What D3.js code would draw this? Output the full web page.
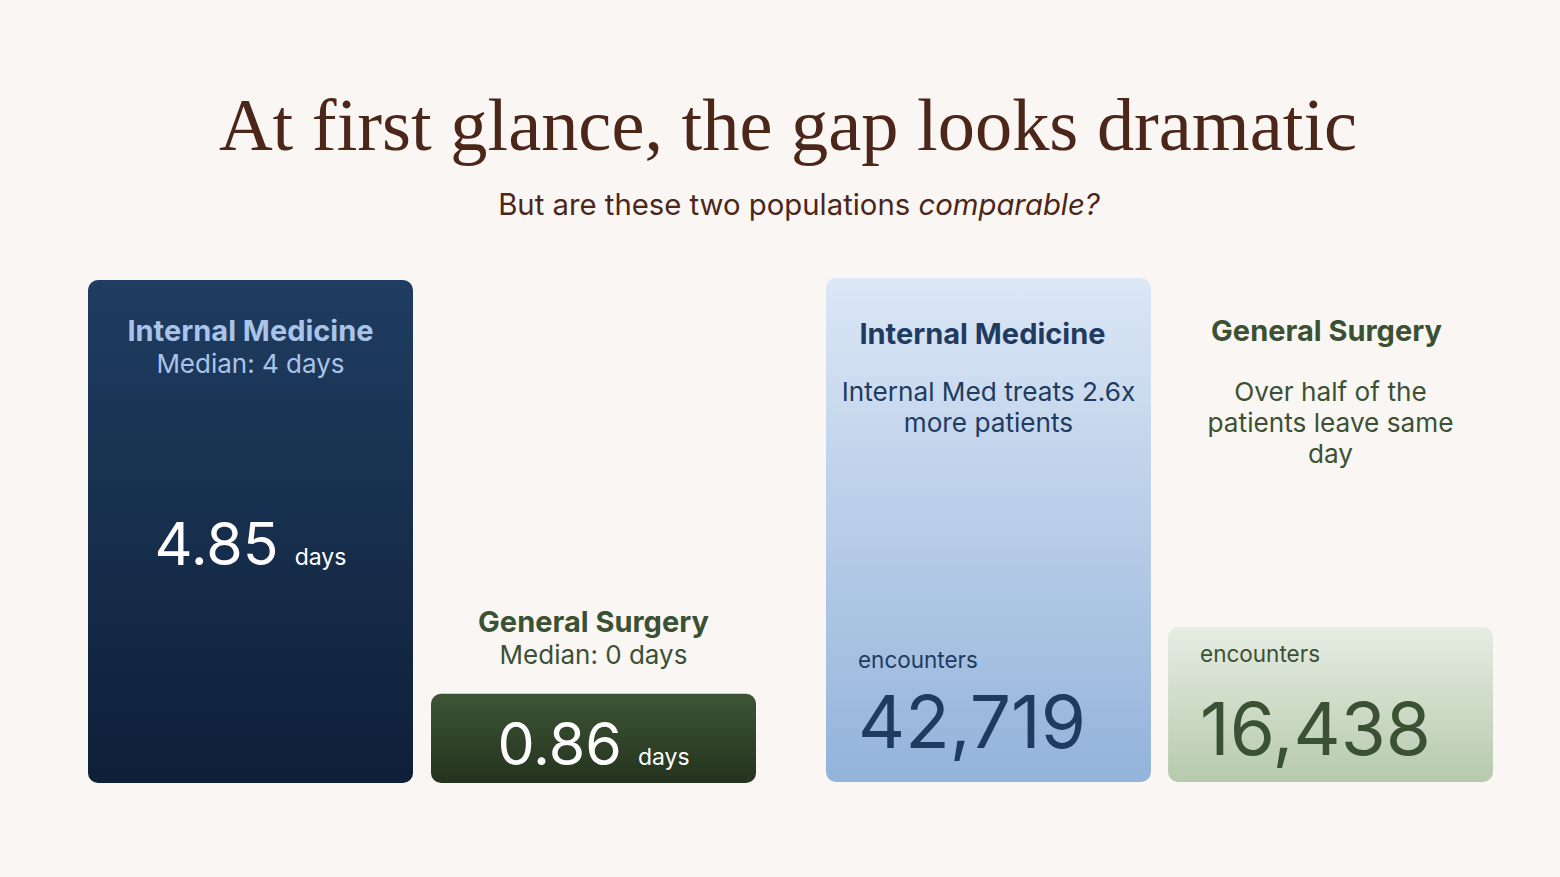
<!DOCTYPE html>
<html>
<head>
<meta charset="utf-8">
<script src="https://cdn.jsdelivr.net/npm/d3@7"></script>
<style>
  html, body { margin: 0; padding: 0; background: #faf6f3; }
  svg { display: block; font-family: Inter, "Noto Sans", sans-serif; }
</style>
</head>
<body>
<div id="chart"></div>
<script>
// Length of stay vs. volume, two departments

const departments = ['Internal Medicine', 'General Surgery'];
const meanStay = [4.85, 0.86];          // days
const medianStay = [4, 0];              // days
const encounters = [42719, 16438];
const notes = [
    ['Internal Med treats 2.6x', 'more patients'],
    ['Over half of the', 'patients leave same', 'day']
];

const titleText = 'At first glance, the gap looks dramatic';
const subtitleText = 'But are these two populations ';
const subtitleEm = 'comparable?';

const width = 1560;
const height = 877;

const palette = {
    bg: '#faf6f3',
    title: '#4b2619',
    blueDark: ['#1f3d61', '#0e1f38'],
    greenDark: ['#3d5535', '#24331e'],
    blueLight: ['#dce7f6', '#93b3da'],
    greenLight: ['#e6ede3', '#b6caad'],
    blueLabel: '#a9c4e8',
    blueText: '#1f3b60',
    greenText: '#3b5134'
};

const svg = d3.select('#chart')
    .append('svg')
    .attr('width', width)
    .attr('height', height);

svg.append('rect')
    .attr('width', width)
    .attr('height', height)
    .attr('fill', palette.bg);

// gradients
const defs = svg.append('defs');
function addGradient(id, stops) {
    const g = defs.append('linearGradient')
        .attr('id', id)
        .attr('x1', 0).attr('y1', 0)
        .attr('x2', 0).attr('y2', 1);
    g.append('stop').attr('offset', '0%').attr('stop-color', stops[0]);
    g.append('stop').attr('offset', '100%').attr('stop-color', stops[1]);
}
addGradient('g-blue-dark', palette.blueDark);
addGradient('g-green-dark', palette.greenDark);
addGradient('g-blue-light', palette.blueLight);
addGradient('g-green-light', palette.greenLight);

// title, fitted to the width it takes in the layout
const title = svg.append('text')
    .attr('x', width / 2 + 8)
    .attr('y', 150)
    .attr('text-anchor', 'middle')
    .attr('fill', palette.title)
    .style('font-family', '"Liberation Serif", "DejaVu Serif", serif')
    .style('font-size', '76px')
    .text(titleText);
const tw = title.node().getComputedTextLength();
title.style('font-size', (76 * 1139 / tw).toFixed(1) + 'px');

const sub = svg.append('text')
    .attr('x', 799)
    .attr('y', 215)
    .attr('text-anchor', 'middle')
    .attr('fill', palette.title)
    .style('font-size', '29.3px');
sub.append('tspan').text(subtitleText);
sub.append('tspan').style('font-style', 'italic').text(subtitleEm);

// ---- left pair: average length of stay ----
const xStay = d3.scaleBand()
    .domain(departments)
    .range([88, 756])
    .paddingInner(0.0525);

const yStay = d3.scaleLinear()
    .domain([0, d3.max(meanStay)])
    .range([783, 280]);

const stayFills = ['url(#g-blue-dark)', 'url(#g-green-dark)'];
const stayLabel = [palette.blueLabel, palette.greenText];

const stay = svg.append('g').attr('class', 'stay')
    .selectAll('g')
    .data(departments.map((d, i) => ({
        dept: d, mean: meanStay[i], median: medianStay[i], i
    })))
    .join('g');

stay.append('rect')
    .attr('x', d => xStay(d.dept))
    .attr('y', d => yStay(d.mean))
    .attr('width', xStay.bandwidth())
    .attr('height', d => yStay(0) - yStay(d.mean))
    .attr('rx', 10)
    .attr('fill', d => stayFills[d.i]);

// label goes inside a tall bar, above a short one
function stayLabelY(d) {
    const top = yStay(d.mean);
    const inside = (yStay(0) - top) > 200;
    return inside ? top + 61 : top - 62;
}

stay.append('text')
    .attr('x', d => xStay(d.dept) + xStay.bandwidth() / 2)
    .attr('y', stayLabelY)
    .attr('text-anchor', 'middle')
    .attr('fill', d => stayLabel[d.i])
    .style('font-size', '29px')
    .style('font-weight', 700)
    .text(d => d.dept);

stay.append('text')
    .attr('x', d => xStay(d.dept) + xStay.bandwidth() / 2)
    .attr('y', d => stayLabelY(d) + 32)
    .attr('text-anchor', 'middle')
    .attr('fill', d => stayLabel[d.i])
    .style('font-size', '26px')
    .text(d => `Median: ${d.median} days`);

const stayValue = stay.append('text')
    .attr('x', d => xStay(d.dept) + xStay.bandwidth() / 2)
    .attr('y', d => {
        const top = yStay(d.mean), bottom = yStay(0);
        return (bottom - top) > 200 ? (top + bottom) / 2 + 33 : bottom - 18;
    })
    .attr('text-anchor', 'middle')
    .attr('fill', '#ffffff');
stayValue.append('tspan')
    .style('font-size', '59px')
    .text(d => d.mean.toFixed(2));
stayValue.append('tspan')
    .attr('dx', 16)
    .style('font-size', '23px')
    .text('days');

// ---- right pair: encounter volume ----
const xEnc = d3.scaleBand()
    .domain(departments)
    .range([826, 1493])
    .paddingInner(0.05);

const yEnc = d3.scaleLinear()
    .domain([4766, d3.max(encounters)])
    .range([782, 278]);

const encFills = ['url(#g-blue-light)', 'url(#g-green-light)'];
const encText = [palette.blueText, palette.greenText];
const fmt = d3.format(',');

const enc = svg.append('g').attr('class', 'encounters')
    .selectAll('g')
    .data(departments.map((d, i) => ({
        dept: d, n: encounters[i], note: notes[i], i
    })))
    .join('g');

enc.append('rect')
    .attr('x', d => xEnc(d.dept))
    .attr('y', d => yEnc(d.n))
    .attr('width', xEnc.bandwidth())
    .attr('height', d => yEnc.range()[0] - yEnc(d.n))
    .attr('rx', 10)
    .attr('fill', d => encFills[d.i]);

enc.append('text')
    .attr('x', d => xEnc(d.dept) + xEnc.bandwidth() / 2 + (d.i === 0 ? -6 : -4))
    .attr('y', d => d.i === 0 ? 344 : 341)
    .attr('text-anchor', 'middle')
    .attr('fill', d => encText[d.i])
    .style('font-size', '29px')
    .style('font-weight', 700)
    .text(d => d.dept);

enc.append('text')
    .attr('text-anchor', 'middle')
    .attr('fill', d => encText[d.i])
    .style('font-size', '26.2px')
    .selectAll('tspan')
    .data(d => d.note.map(line => ({ line, d })))
    .join('tspan')
    .attr('x', o => xEnc(o.d.dept) + xEnc.bandwidth() / 2)
    .attr('y', (o, j) => 401 + j * 31)
    .text(o => o.line);

enc.append('text')
    .attr('x', d => xEnc(d.dept) + 32)
    .attr('y', d => d.i === 0 ? 668 : yEnc(d.n) + 35)
    .attr('fill', d => encText[d.i])
    .style('font-size', '22.5px')
    .text('encounters');

enc.append('text')
    .attr('x', d => xEnc(d.dept) + 32)
    .attr('y', d => d.i === 0 ? 748 : 755)
    .attr('fill', d => encText[d.i])
    .style('font-size', '73px')
    .text(d => fmt(d.n));
</script>
</body>
</html>
